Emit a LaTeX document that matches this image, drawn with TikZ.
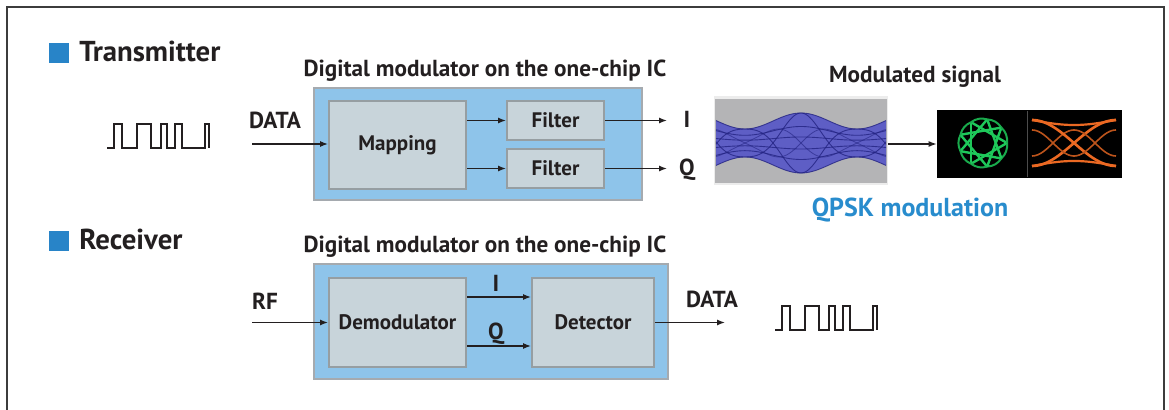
\documentclass[tikz,border=0pt]{standalone}
\usepackage{fontspec}
\setmainfont{PT Sans}
\usetikzlibrary{arrows.meta}
\definecolor{chipblue}{RGB}{142,196,234}
\definecolor{chipedge}{RGB}{165,170,175}
\definecolor{blockfill}{RGB}{200,212,218}
\definecolor{blockedge}{RGB}{150,158,162}
\definecolor{markblue}{RGB}{40,132,200}
\definecolor{qpskblue}{RGB}{40,140,205}
\definecolor{txt}{RGB}{35,31,32}
\definecolor{framegray}{RGB}{60,60,60}
\definecolor{eyegray}{RGB}{180,180,182}
\definecolor{eyeblue}{RGB}{80,80,200}
\definecolor{eyedark}{RGB}{35,35,130}
\definecolor{constgreen}{RGB}{30,200,90}
\definecolor{constorange}{RGB}{235,105,35}
\newcommand\lblfont{\bfseries\fontsize{10.5}{12}\selectfont}
\newcommand\extfont{\bfseries\fontsize{11.6}{13}\selectfont}
\newcommand\headfont{\bfseries\fontsize{14.4}{16}\selectfont}
\newcommand\qpskfont{\bfseries\fontsize{13}{15}\selectfont}
\begin{document}
\begin{tikzpicture}[x=0.5pt,y=-0.5pt,
  chip/.style={draw=chipedge, line width=1.2pt, fill=chipblue, inner sep=0},
  block/.style={draw=blockedge, line width=1pt, fill=blockfill, inner sep=0, text=txt, font=\lblfont},
  lbl/.style={text=txt, font=\extfont, inner sep=0, anchor=base},
  sig/.style={-{Latex[length=4pt,width=3pt]}, line width=0.6pt, draw=txt},
  wave/.style={line width=0.7pt, draw=txt},
  marker/.style={fill=markblue, minimum size=10pt, inner sep=0},
  sqwave/.pic={\draw[wave] (0,0) -- (7,0) -- (7,-24) -- (15,-24) -- (15,0) -- (30,0) -- (30,-24) -- (44,-24) -- (44,0) -- (54,0) -- (54,-24) -- (60,-24) -- (60,0) -- (68,0) -- (68,-24) -- (75,-24) -- (75,0) -- (98,0) -- (98,-24) -- (102,-24) -- (102,0);}]
\useasboundingbox (0,0) rectangle (1169,410);
\fill[white] (0,0) rectangle (1169,410);
% frame
\draw[framegray, line width=1pt] (7,410) -- (7,7) -- (1164,7) -- (1164,410);

% ---------- Transmitter ----------
\node[marker] (txmark) at (59,53) {};
\node[lbl, font=\headfont, anchor=base west] (txhead) at (79,62) {Transmitter};
\node[lbl] (txtitle) at (485,77) {Digital modulator on the one-chip IC};
\node[chip, minimum width=164pt, minimum height=56pt] (txchip) at (478,144) {};
\node[block, minimum width=68.5pt, minimum height=44pt] (map) at (397.5,145) {Mapping};
\node[block, minimum width=48.5pt, minimum height=19.5pt] (f1) at (555.5,120.5) {Filter};
\node[block, minimum width=48.5pt, minimum height=19.5pt] (f2) at (555.5,168.5) {Filter};
\draw[sig] (map.east |- f1.west) -- (f1.west);
\draw[sig] (map.east |- f2.west) -- (f2.west);
\coordinate (iout) at (667,120.5);
\coordinate (qout) at (667,168.5);
\draw[sig] (f1.east) -- (iout);
\draw[sig] (f2.east) -- (qout);
\node[lbl] (ilab) at (687,128) {I};
\node[lbl] (qlab) at (687,176) {Q};
\coordinate (datain) at (252,144);
\draw[sig] (datain) -- (map.west |- datain);
\node[lbl] (datalab) at (275,129) {DATA};
\pic at (107,148) {sqwave};

% eye diagram
\node[minimum width=87pt, minimum height=44.5pt, inner sep=0] (eye) at (801,140.5) {};
\fill[gray!15] (714,96) rectangle (888,185);
\fill[eyegray] (715,99) rectangle (887,183);
\fill[eyeblue, opacity=0.85] plot[domain=716:886, samples=90] (\x, {143-(22+8*cos((\x-801)*3.2142857))}) -- plot[domain=886:716, samples=90] (\x, {143+(22+8*cos((\x-801)*3.2142857))}) -- cycle;
\foreach \k in {-1,-0.55,-0.2,0.2,0.55,1}
  \draw[eyedark, line width=0.45pt, opacity=0.8] plot[domain=716:886, samples=90] (\x, {143+\k*(22+8*cos((\x-801)*3.2142857))});
\foreach \s in {1,-1}{
  \draw[eyedark, line width=0.45pt, opacity=0.8] plot[domain=716:886, samples=90] (\x, {143+\s*(22+8*cos((\x-801)*3.2142857))*cos((\x-745)*3.2142857)});
  \draw[eyedark, line width=0.4pt, opacity=0.6] plot[domain=716:886, samples=90] (\x, {143+\s*0.6*(22+8*cos((\x-801)*3.2142857))*sin((\x-745)*3.2142857)});
}
\node[lbl] (modlab) at (915,83) {Modulated signal};

% constellation
\node[minimum width=92.5pt, minimum height=34pt, inner sep=0] (const) at (1029.5,144) {};
\fill[black] (937,110) rectangle (1122,178);
\draw[gray!60!black, line width=0.5pt] (1027,111) -- (1027,177);
\foreach \i in {0,...,8}{
  \draw[constgreen, line width=1.2pt] ({983+24*cos(40*\i)}, {143+24*sin(40*\i)}) -- ({983+24*cos(40*(\i+3))}, {143+24*sin(40*(\i+3))});
  \draw[constgreen!85!black, line width=1pt] ({983+24*cos(40*\i)}, {143+24*sin(40*\i)}) to[bend left=25] ({983+24*cos(40*(\i+1))}, {143+24*sin(40*(\i+1))});
}
\foreach \s in {1,-1}{
  \draw[constorange, line width=1.3pt] plot[domain=1032:1116, samples=40] (\x, {143+\s*23*cos((\x-1032)*2.142857)});
  \draw[constorange, line width=1.1pt] plot[domain=1032:1116, samples=40] (\x, {143+\s*(23-5*sin((\x-1032)*2.142857))});
  \draw[constorange!80!black, line width=0.8pt] plot[domain=1032:1116, samples=40] (\x, {143+\s*13*cos((\x-1032)*4.285714)});
}
\draw[sig] (eye.east |- const.west) -- (const.west);
\node[lbl, font=\qpskfont, text=qpskblue] (qpsk) at (910,217) {QPSK modulation};

% ---------- Receiver ----------
\node[marker] (rxmark) at (59,241) {};
\node[lbl, font=\headfont, anchor=base west] (rxhead) at (79,250) {Receiver};
\node[lbl] (rxtitle) at (485,253) {Digital modulator on the one-chip IC};
\node[chip, minimum width=177pt, minimum height=57.5pt] (rxchip) at (491,321.5) {};
\node[block, minimum width=68.5pt, minimum height=44.5pt] (demod) at (397.5,322.5) {Demodulator};
\node[block, minimum width=61pt, minimum height=44.5pt] (det) at (593,322.5) {Detector};
\coordinate (iy) at (0,297);
\coordinate (qy) at (0,346);
\draw[sig] (demod.east |- iy) -- (det.west |- iy);
\draw[sig] (demod.east |- qy) -- (det.west |- qy);
\node[lbl] (rxi) at (496,292) {I};
\node[lbl] (rxq) at (496,340) {Q};
\coordinate (rfin) at (252,322.5);
\draw[sig] (rfin) -- (demod.west);
\node[lbl] (rflab) at (265,310) {RF};
\coordinate (dataout) at (725,322.5);
\draw[sig] (det.east) -- (dataout);
\node[lbl] (rxdata) at (712,308) {DATA};
\pic at (775,330) {sqwave};
\end{tikzpicture}
\end{document}
